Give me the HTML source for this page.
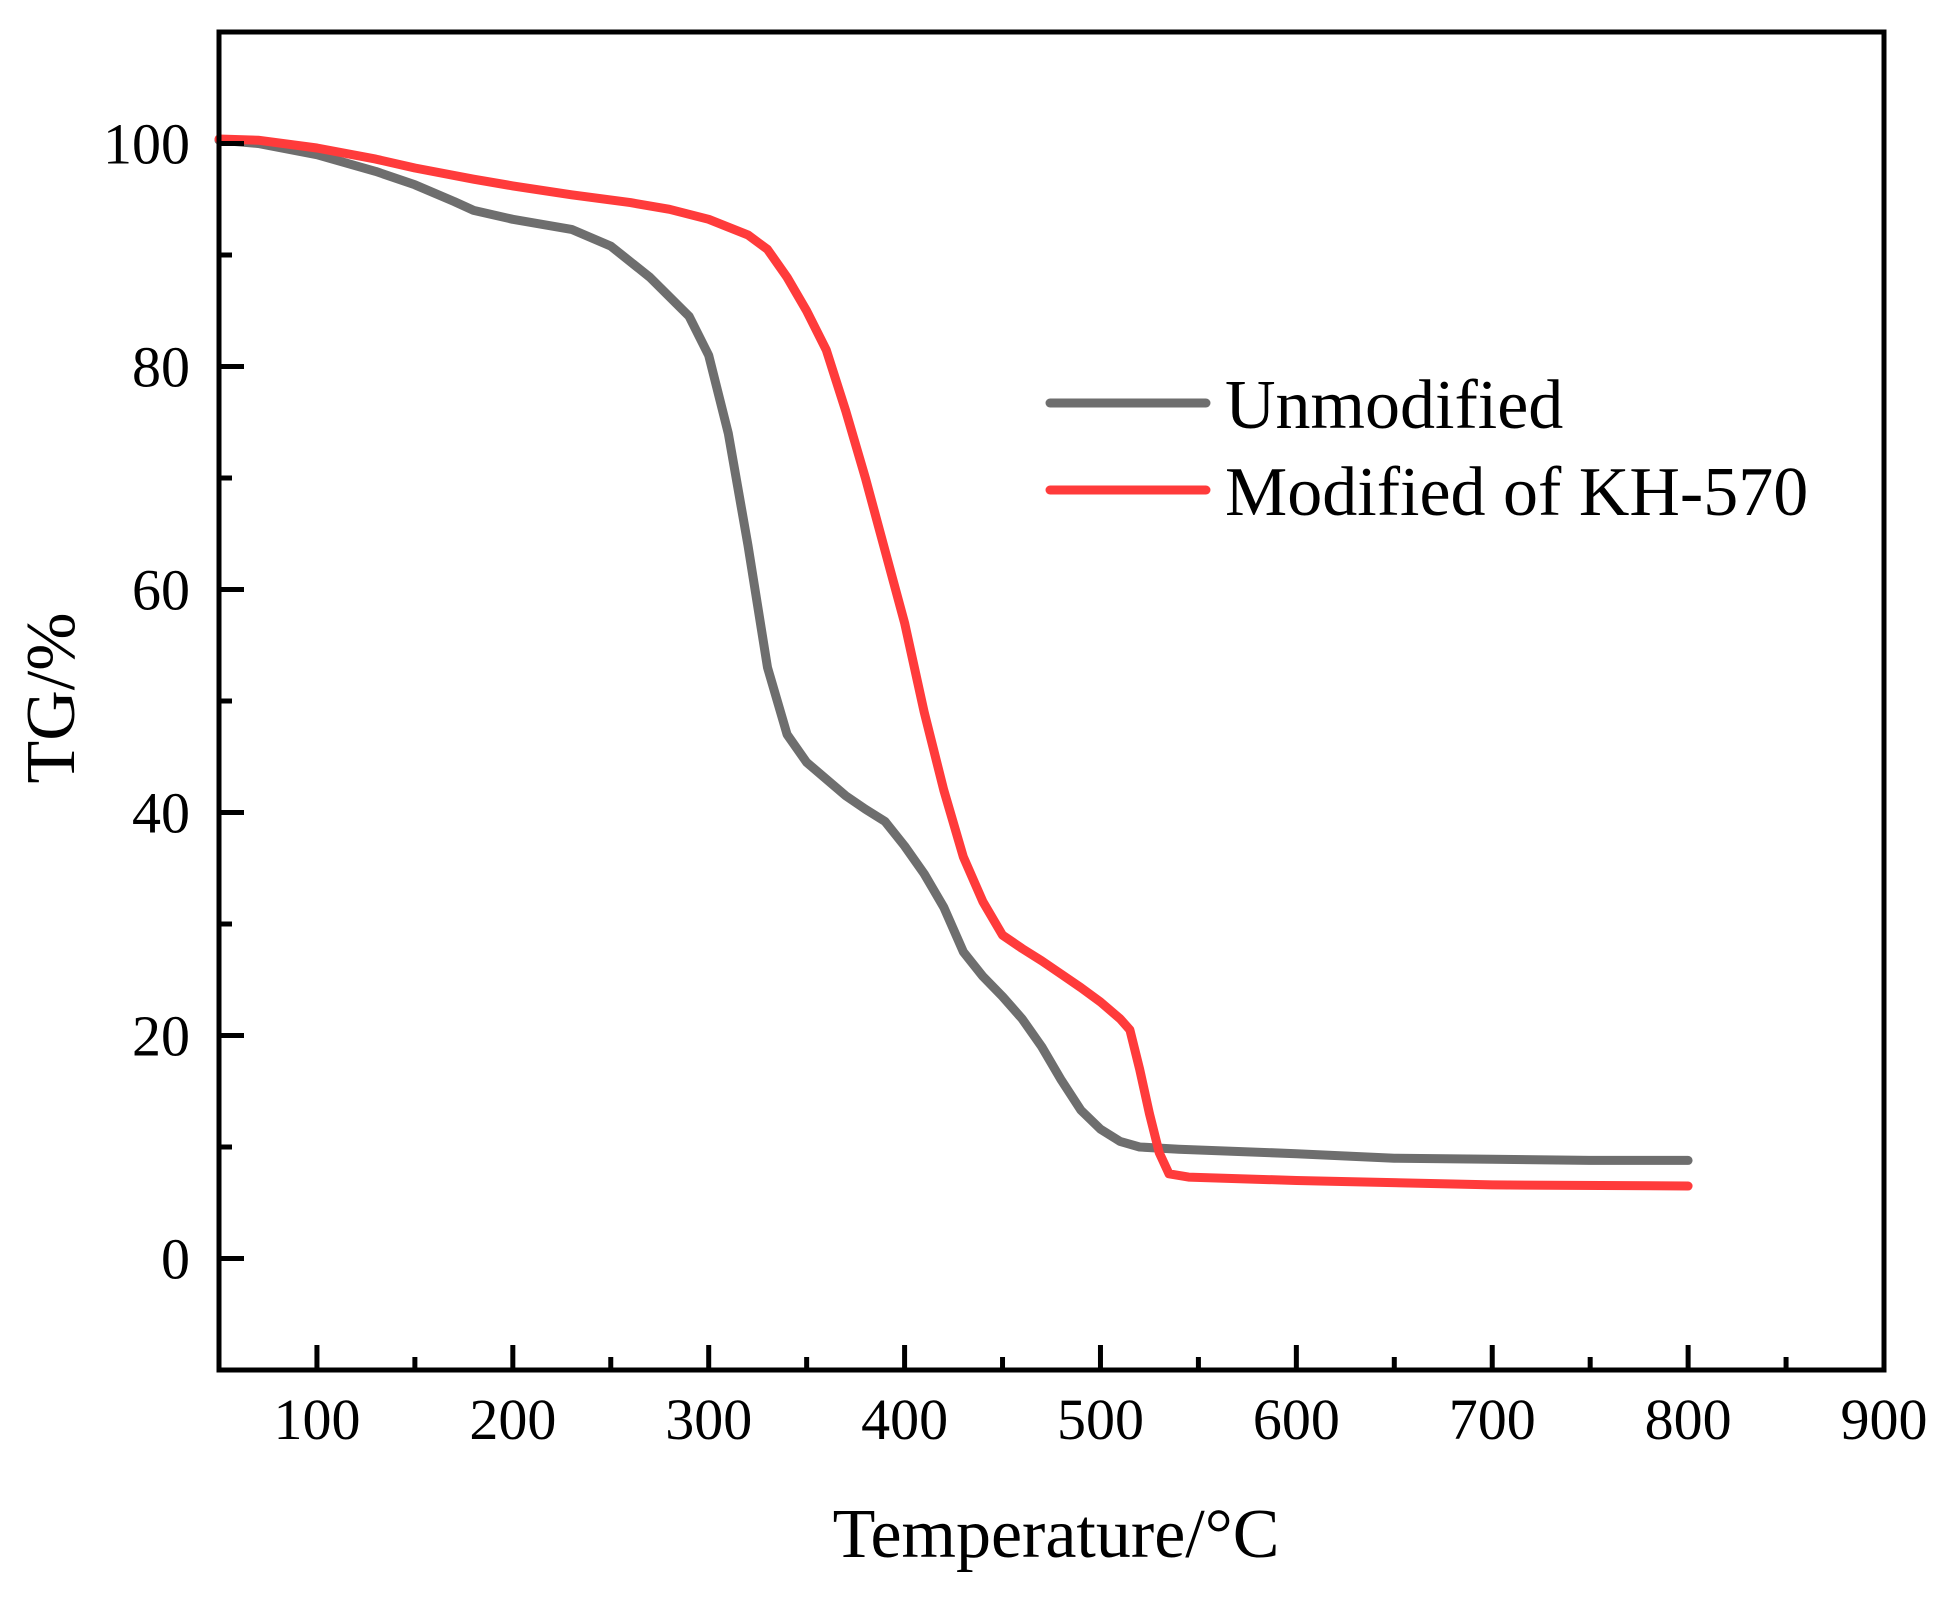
<!DOCTYPE html>
<html><head><meta charset="utf-8"><style>
html,body{margin:0;padding:0;background:#fff;}
svg{display:block;font-family:"Liberation Serif",serif;}
</style></head><body>
<svg id="chart" width="1947" height="1598" viewBox="0 0 1947 1598" xmlns="http://www.w3.org/2000/svg">
<g id="marks"></g>
<g id="axes"></g>
</svg>
<script>
const xTicks=[100,200,300,400,500,600,700,800,900];
const yTicks=[0,20,40,60,80,100];
const unmodT=[50,70,100,130,150,170,180,200,230,250,270,290,300,310,320,330,340,350,360,370,380,390,400,410,420,430,440,450,460,470,480,490,500,510,520,540,600,650,700,750,800];
const unmodV=[100.3,100,99,97.5,96.3,94.8,94,93.2,92.3,90.8,88,84.5,81,74,64,53,47,44.5,43,41.5,40.3,39.2,37,34.5,31.5,27.5,25.3,23.5,21.5,19,16,13.3,11.6,10.5,10,9.8,9.4,9,8.9,8.8,8.8];
const modT=[50,70,100,130,150,180,200,230,260,280,300,320,330,340,350,360,370,380,390,400,410,420,430,440,450,460,470,480,490,500,510,515,520,525,530,535,545,600,700,800];
const modV=[100.4,100.3,99.6,98.6,97.8,96.8,96.2,95.4,94.7,94.1,93.2,91.8,90.5,88,85,81.5,76,70,63.5,57,49,42,36,32,29,27.8,26.7,25.5,24.3,23,21.5,20.5,17,13,9.5,7.6,7.3,7,6.6,6.5];
const X0=219,X1=1884,Y0=32,Y1=1370,xmin=50,xmax=900,ymin=-10,ymax=110;
const sx=v=>X0+(v-xmin)/(xmax-xmin)*(X1-X0);
const sy=v=>Y1-(v-ymin)/(ymax-ymin)*(Y1-Y0);
const NS="http://www.w3.org/2000/svg";
const marks=document.getElementById('marks'),axes=document.getElementById('axes');
function mk(tag,attrs,parent){const e=document.createElementNS(NS,tag);for(const k in attrs)e.setAttribute(k,attrs[k]);parent.appendChild(e);return e;}
function series(T,V,color,name){
  const pts=T.map((t,i)=>sx(t).toFixed(1)+','+sy(V[i]).toFixed(1)).join(' ');
  const p=mk('polyline',{points:pts,fill:'none',stroke:color,'stroke-width':9,'stroke-linejoin':'round','stroke-linecap':'round'},marks);
  
  
}
series(unmodT,unmodV,'#6e6e6e','unmodified-line');
series(modT,modV,'#ff3b3b','modified-kh570-line');
const frame=mk('rect',{x:X0,y:Y0,width:X1-X0,height:Y1-Y0,fill:'none',stroke:'#000','stroke-width':5},axes);


for(let v=100;v<=850;v+=50){const maj=v%100===0;mk('line',{x1:sx(v),x2:sx(v),y1:Y1,y2:Y1-(maj?25:13),stroke:'#000','stroke-width':5},axes);}
for(let v=-0;v<=100;v+=10){const maj=v%20===0;mk('line',{x1:X0,x2:X0+(maj?25:13),y1:sy(v),y2:sy(v),stroke:'#000','stroke-width':5},axes);}
xTicks.forEach(v=>{const t=mk('text',{x:sx(v),y:1439,'font-size':58,'text-anchor':'middle'},axes);t.textContent=v;

});
yTicks.forEach(v=>{const t=mk('text',{x:190,y:sy(v)+20,'font-size':58,'text-anchor':'end'},axes);t.textContent=v;

});
</script>
<svg style="position:absolute;left:0;top:0" width="1947" height="1598" font-family="Liberation Serif, serif">
<text x="1056" y="1557" font-size="70" text-anchor="middle">Temperature/°C</text>
<text transform="translate(74,698) rotate(-90)" font-size="70" text-anchor="middle">TG/%</text>
<g>
<line x1="1050" y1="403" x2="1206" y2="403" stroke="#6e6e6e" stroke-width="9" stroke-linecap="round"/>
<text x="1225" y="428" font-size="70">Unmodified</text>
<line x1="1050" y1="490" x2="1206" y2="490" stroke="#ff3b3b" stroke-width="9" stroke-linecap="round"/>
<text x="1225" y="515" font-size="70">Modified of KH-570</text>
</g>
</svg>
</body></html>
